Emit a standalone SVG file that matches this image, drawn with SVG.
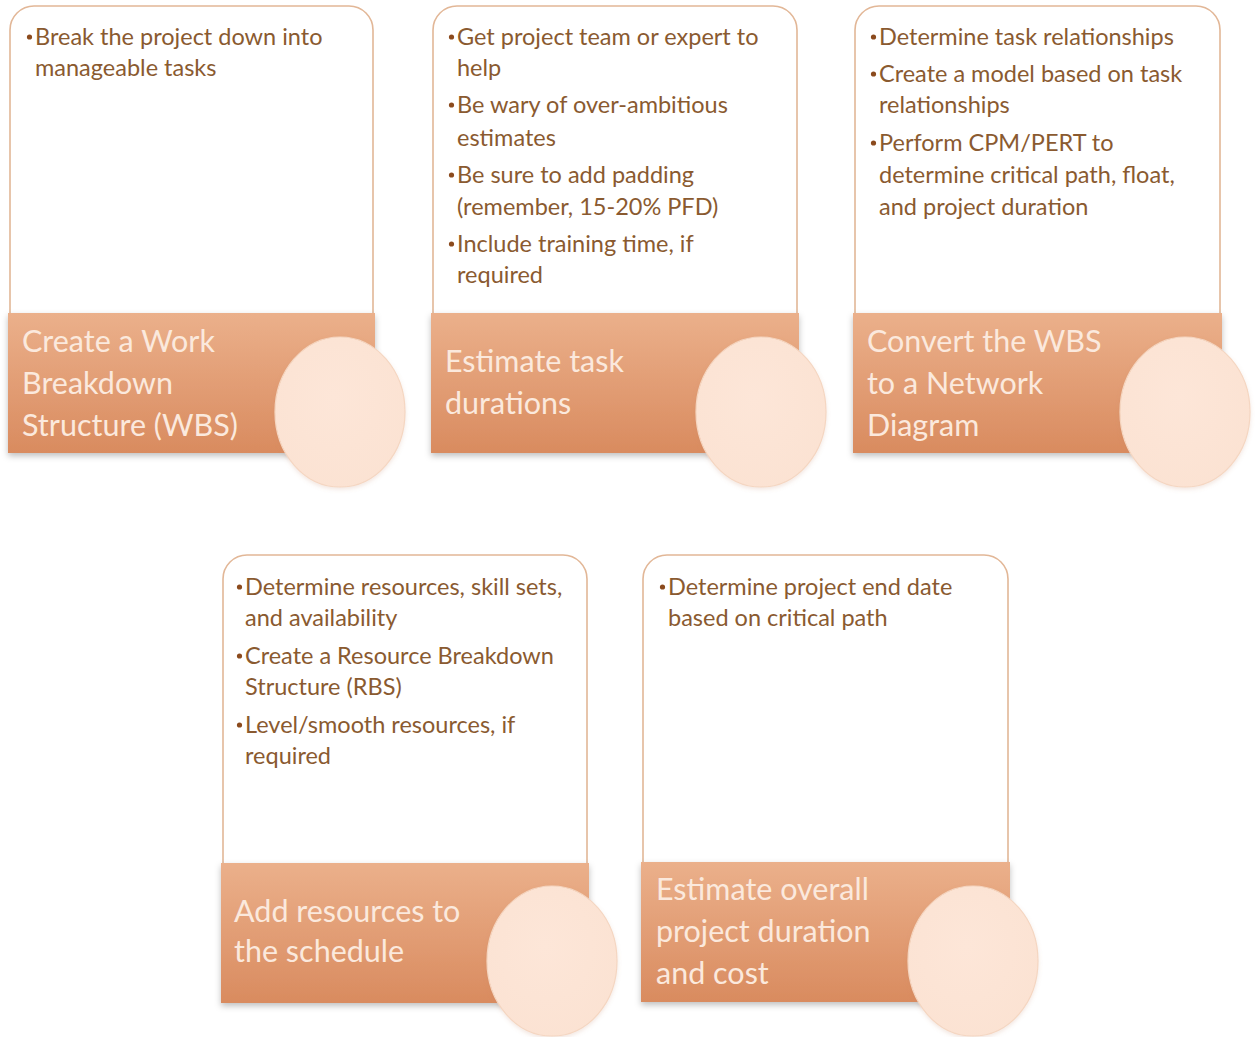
<svg xmlns="http://www.w3.org/2000/svg" width="1255" height="1037" viewBox="0 0 1255 1037">
<style>
.box{fill:#ffffff;stroke:#e2b797;stroke-width:1.6}
.bar{fill:url(#barG);filter:url(#sh)}
.circ{fill:url(#circG);stroke:#f5d6c1;stroke-width:1.2;filter:url(#sh2)}
.bt{font-family:Lato,"Liberation Sans",sans-serif;font-size:23.5px;fill:#8a5a30}
.dot{fill:#8b4a1d}
.tt{font-family:Lato,"Liberation Sans",sans-serif;font-size:30.5px;fill:#fbe9dd}
</style>
<defs>
<linearGradient id="barG" x1="0" y1="0" x2="0" y2="1">
<stop offset="0" stop-color="#ebb08b"/>
<stop offset="1" stop-color="#d98b5f"/>
</linearGradient>
<radialGradient id="circG" cx="0.45" cy="0.4" r="0.7">
<stop offset="0" stop-color="#fde6d8"/>
<stop offset="1" stop-color="#fbe2d2"/>
</radialGradient>
<filter id="sh" x="-5%" y="-10%" width="110%" height="130%">
<feDropShadow dx="0" dy="3" stdDeviation="3" flood-color="#000" flood-opacity="0.25"/>
</filter>
<filter id="sh2" x="-10%" y="-10%" width="120%" height="125%">
<feDropShadow dx="0" dy="2" stdDeviation="2" flood-color="#c08060" flood-opacity="0.2"/>
</filter>
</defs>
<rect width="1255" height="1037" fill="#ffffff"/>
<g id="connectors"></g>

<g id="node1">
<rect class="box" x="10" y="6" width="363" height="400" rx="24"/>
<rect class="bar" x="8" y="313" width="367" height="140"/>
<circle class="dot" cx="29.5" cy="37" r="2.6"/>
<text class="bt" x="35" y="45">Break the project down into</text>
<text class="bt" x="35" y="76">manageable tasks</text>
<text class="tt" x="22" y="352">Create a Work</text>
<text class="tt" x="22" y="394">Breakdown</text>
<text class="tt" x="22" y="436">Structure (WBS)</text>
<ellipse class="circ" cx="340" cy="412" rx="65" ry="75"/>
</g>

<g id="node2">
<rect class="box" x="433" y="6" width="364" height="400" rx="24"/>
<rect class="bar" x="431" y="313" width="368" height="140"/>
<circle class="dot" cx="451.5" cy="37" r="2.6"/>
<text class="bt" x="457" y="45">Get project team or expert to</text>
<text class="bt" x="457" y="76">help</text>
<circle class="dot" cx="451.5" cy="105" r="2.6"/>
<text class="bt" x="457" y="113">Be wary of over-ambitious</text>
<text class="bt" x="457" y="146">estimates</text>
<circle class="dot" cx="451.5" cy="175" r="2.6"/>
<text class="bt" x="457" y="183">Be sure to add padding</text>
<text class="bt" x="457" y="215">(remember, 15-20% PFD)</text>
<circle class="dot" cx="451.5" cy="244" r="2.6"/>
<text class="bt" x="457" y="252">Include training time, if</text>
<text class="bt" x="457" y="283">required</text>
<text class="tt" x="445" y="372">Estimate task</text>
<text class="tt" x="445" y="414">durations</text>
<ellipse class="circ" cx="761" cy="412" rx="65" ry="75"/>
</g>

<g id="node3">
<rect class="box" x="855" y="6" width="365" height="400" rx="24"/>
<rect class="bar" x="853" y="313" width="369" height="140"/>
<circle class="dot" cx="873.5" cy="37" r="2.6"/>
<text class="bt" x="879" y="45">Determine task relationships</text>
<circle class="dot" cx="873.5" cy="74" r="2.6"/>
<text class="bt" x="879" y="82">Create a model based on task</text>
<text class="bt" x="879" y="113">relationships</text>
<circle class="dot" cx="873.5" cy="143" r="2.6"/>
<text class="bt" x="879" y="151">Perform CPM/PERT to</text>
<text class="bt" x="879" y="183">determine critical path, float,</text>
<text class="bt" x="879" y="215">and project duration</text>
<text class="tt" x="867" y="352">Convert the WBS</text>
<text class="tt" x="867" y="394">to a Network</text>
<text class="tt" x="867" y="436">Diagram</text>
<ellipse class="circ" cx="1185" cy="412" rx="65" ry="75"/>
</g>

<g id="node4">
<rect class="box" x="223" y="555" width="364" height="400" rx="24"/>
<rect class="bar" x="221" y="863" width="368" height="140"/>
<circle class="dot" cx="239.5" cy="587" r="2.6"/>
<text class="bt" x="245" y="595">Determine resources, skill sets,</text>
<text class="bt" x="245" y="626">and availability</text>
<circle class="dot" cx="239.5" cy="656" r="2.6"/>
<text class="bt" x="245" y="664">Create a Resource Breakdown</text>
<text class="bt" x="245" y="695">Structure (RBS)</text>
<circle class="dot" cx="239.5" cy="725" r="2.6"/>
<text class="bt" x="245" y="733">Level/smooth resources, if</text>
<text class="bt" x="245" y="764">required</text>
<text class="tt" x="234" y="922">Add resources to</text>
<text class="tt" x="234" y="962">the schedule</text>
<ellipse class="circ" cx="552" cy="961" rx="65" ry="75"/>
</g>

<g id="node5">
<rect class="box" x="643" y="555" width="365" height="400" rx="24"/>
<rect class="bar" x="641" y="862" width="369" height="140"/>
<circle class="dot" cx="662.5" cy="587" r="2.6"/>
<text class="bt" x="668" y="595">Determine project end date</text>
<text class="bt" x="668" y="626">based on critical path</text>
<text class="tt" x="656" y="900">Estimate overall</text>
<text class="tt" x="656" y="942">project duration</text>
<text class="tt" x="656" y="984">and cost</text>
<ellipse class="circ" cx="973" cy="961" rx="65" ry="75"/>
</g>
</svg>
